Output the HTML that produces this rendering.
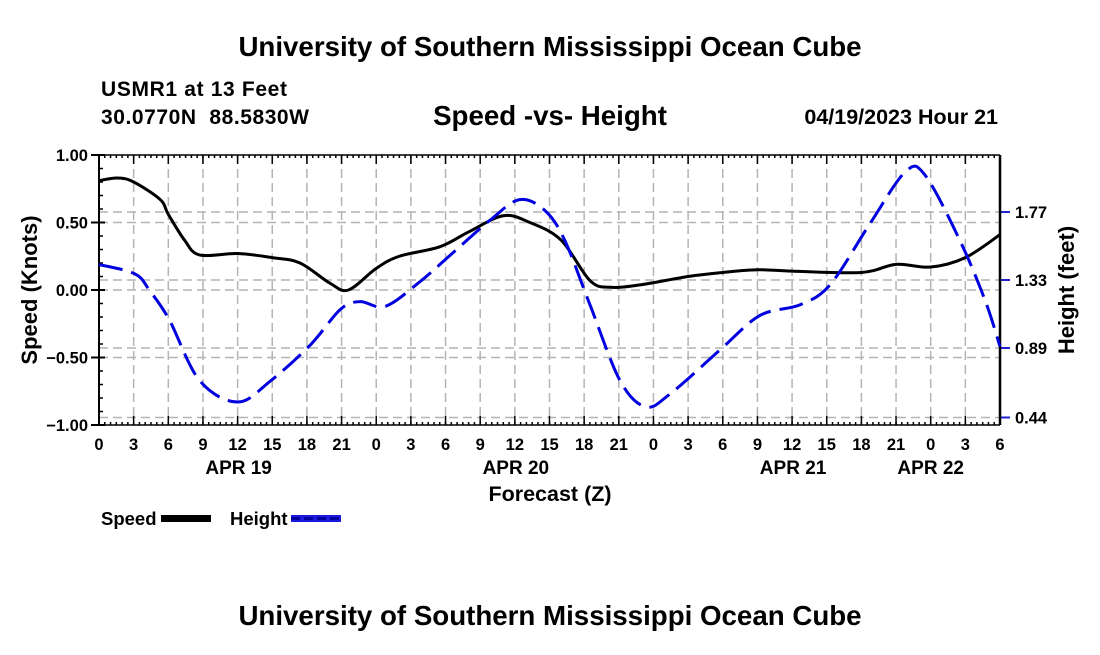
<!DOCTYPE html>
<html><head><meta charset="utf-8"><style>
html,body{margin:0;padding:0;background:#fff;}
svg text{font-family:"Liberation Sans",Arial,sans-serif;font-weight:bold;fill:#000;}
</style></head><body>
<svg id="chart" width="1100" height="650" viewBox="0 0 1100 650" xmlns="http://www.w3.org/2000/svg">
<rect width="1100" height="650" fill="#fff"/>
<text x="550" y="56" font-size="27.7" text-anchor="middle">University of Southern Mississippi Ocean Cube</text>
<text x="101" y="96" font-size="21" textLength="186">USMR1 at 13 Feet</text>
<text x="101" y="124" font-size="21" textLength="208" xml:space="preserve">30.0770N  88.5830W</text>
<text x="550" y="125" font-size="27.7" text-anchor="middle">Speed -vs- Height</text>
<text x="998" y="124" font-size="21.5" text-anchor="end">04/19/2023 Hour 21</text>
<g id="grid"></g>
<g id="axes"></g>
<g id="series"></g>
<text transform="translate(37,290) rotate(-90)" font-size="22" text-anchor="middle">Speed (Knots)</text>
<text transform="translate(1074,290) rotate(-90)" font-size="22" text-anchor="middle">Height (feet)</text>
<text x="550" y="501" font-size="21.5" text-anchor="middle">Forecast (Z)</text>
<g>
<text x="101" y="525" font-size="18.5">Speed</text>
<rect x="161" y="515" width="50" height="7" fill="#000"/>
<text x="230" y="525" font-size="18.5">Height</text>
<rect x="291" y="515" width="50" height="7" fill="#1a1ae0"/>
<line x1="291" y1="518.5" x2="341" y2="518.5" stroke="#0000a0" stroke-width="3" stroke-dasharray="9 4"/>
</g>
<text x="550" y="625" font-size="27.7" text-anchor="middle">University of Southern Mississippi Ocean Cube</text>
</svg>
<script>
const speedHours=[0,1.6,3,5.3,6,7.4,8.7,12,15,17.4,20,21.6,24,26,29.5,32,35,37.3,40,42.5,44.3,47,51,54,57,60,66,69,72,75,78];
const speedValues=[0.81,0.83,0.80,0.67,0.56,0.37,0.26,0.27,0.24,0.20,0.05,0.0,0.16,0.25,0.32,0.43,0.55,0.50,0.37,0.07,0.02,0.04,0.10,0.13,0.15,0.14,0.13,0.19,0.17,0.24,0.41];
const heightHours=[0,3.1,4.4,6.1,8.7,12,14.9,18.3,20.9,22.6,24.8,27.8,30.4,33.9,36.4,38.6,40.3,42.5,45.1,47.3,49.4,53.8,57.2,60.7,63.3,66.7,69.8,71.5,74.5,76.7,78];
const heightValues=[1.43,1.37,1.26,1.07,0.68,0.54,0.68,0.91,1.14,1.19,1.16,1.32,1.49,1.72,1.85,1.78,1.59,1.17,0.68,0.51,0.59,0.88,1.10,1.17,1.30,1.69,2.03,2.01,1.59,1.20,0.90];
const speedTicks=["1.00","0.50","0.00","−0.50","−1.00"];
const speedTickValues=[1,0.5,0,-0.5,-1];
const heightTicks=["1.77","1.33","0.89","0.44"];
const heightTickValues=[1.77,1.33,0.89,0.44];
const hourLabels=["0","3","6","9","12","15","18","21","0","3","6","9","12","15","18","21","0","3","6","9","12","15","18","21","0","3","6"];
const dayLabels=["APR 19","APR 20","APR 21","APR 22"];
const dayLabelHours=[12,36,60,72];

const L=99,R=1000,T=155,B=425,HMAX=78;
const xs=h=>L+(R-L)*h/HMAX;
const ys=v=>290-v*135;
const yh=v=>280-(v-1.33)*154.5;
const NS="http://www.w3.org/2000/svg";
function mk(parent,tag,attrs){const e=document.createElementNS(NS,tag);for(const k in attrs)e.setAttribute(k,attrs[k]);parent.appendChild(e);return e;}
const grid=document.getElementById('grid'),axes=document.getElementById('axes'),series=document.getElementById('series');
hourLabels.forEach((t,i)=>{const x=xs(i*3);
 if(i>0&&i<hourLabels.length-1){const g=mk(grid,'line',{x1:x,y1:T,x2:x,y2:B,stroke:'#b4b4b4','stroke-width':1.5,'stroke-dasharray':'9 5'});
 
 }
 const tl=mk(axes,'text',{x:x,y:B+25,'font-size':16.5,'text-anchor':'middle'});tl.textContent=t;
 
 
 mk(axes,'line',{x1:x,y1:B,x2:x,y2:B-9,stroke:'#000','stroke-width':1.5});
 mk(axes,'line',{x1:x,y1:T,x2:x,y2:T+9,stroke:'#000','stroke-width':1.5});
});
for(let h=0;h<=HMAX;h+=0.5){const x=xs(h);mk(axes,'line',{x1:x,y1:B,x2:x,y2:B-3,stroke:'#000','stroke-width':1.5});mk(axes,'line',{x1:x,y1:T,x2:x,y2:T+3,stroke:'#000','stroke-width':1.5});}
dayLabels.forEach((d,i)=>{const t=mk(axes,'text',{x:xs(dayLabelHours[i])+(i==3?0:1),y:B+49,'font-size':19,'text-anchor':'middle'});t.textContent=d;
 
 });
speedTickValues.forEach((v,i)=>{const y=ys(v);
 if(i>0&&i<speedTickValues.length-1){const g=mk(grid,'line',{x1:L,y1:y,x2:R,y2:y,stroke:'#b4b4b4','stroke-width':1.5,'stroke-dasharray':'9 5'});
 
 }
 mk(axes,'line',{x1:L-8,y1:y,x2:L+6,y2:y,stroke:'#000','stroke-width':2});
 const t=mk(axes,'text',{x:L-11,y:y+6,'font-size':16.5,'text-anchor':'end'});t.textContent=speedTicks[i];
 
 });
for(let v=-1;v<=1.001;v+=0.1){mk(axes,'line',{x1:L,y1:ys(v),x2:L+4,y2:ys(v),stroke:'#000','stroke-width':1.5});}
heightTickValues.forEach((v,i)=>{const y=yh(v);
 const g=mk(grid,'line',{x1:L,y1:y,x2:R,y2:y,stroke:'#b4b4b4','stroke-width':1.5,'stroke-dasharray':'9 5'});
 
 
 mk(axes,'line',{x1:R,y1:y,x2:R+10,y2:y,stroke:'#2020d0','stroke-width':2});
 const t=mk(axes,'text',{x:R+15,y:y+6,'font-size':16.5});t.textContent=heightTicks[i];
 
 });
mk(axes,'line',{x1:L,y1:T,x2:R,y2:T,stroke:'#000','stroke-width':1.5});
mk(axes,'line',{x1:L,y1:B,x2:R,y2:B,stroke:'#000','stroke-width':1.5});
mk(axes,'line',{x1:L,y1:T,x2:L,y2:B,stroke:'#000','stroke-width':2});
mk(axes,'line',{x1:R,y1:T,x2:R,y2:B,stroke:'#000','stroke-width':2.5});
function smooth(px){let d='M'+px[0][0]+','+px[0][1];
 for(let i=0;i<px.length-1;i++){const p0=px[Math.max(0,i-1)],p1=px[i],p2=px[i+1],p3=px[Math.min(px.length-1,i+2)];
 d+=' C'+(p1[0]+(p2[0]-p0[0])/6)+','+(p1[1]+(p2[1]-p0[1])/6)+' '+(p2[0]-(p3[0]-p1[0])/6)+','+(p2[1]-(p3[1]-p1[1])/6)+' '+p2[0]+','+p2[1];}
 return d;}
const sp=mk(series,'path',{d:smooth(speedHours.map((h,i)=>[xs(h),ys(speedValues[i])])),fill:'none',stroke:'#000','stroke-width':3});


const hp=mk(series,'path',{d:smooth(heightHours.map((h,i)=>[xs(h),yh(heightValues[i])])),fill:'none',stroke:'#0000e0','stroke-width':3,'stroke-dasharray':'24 9'});


</script>
</body></html>
